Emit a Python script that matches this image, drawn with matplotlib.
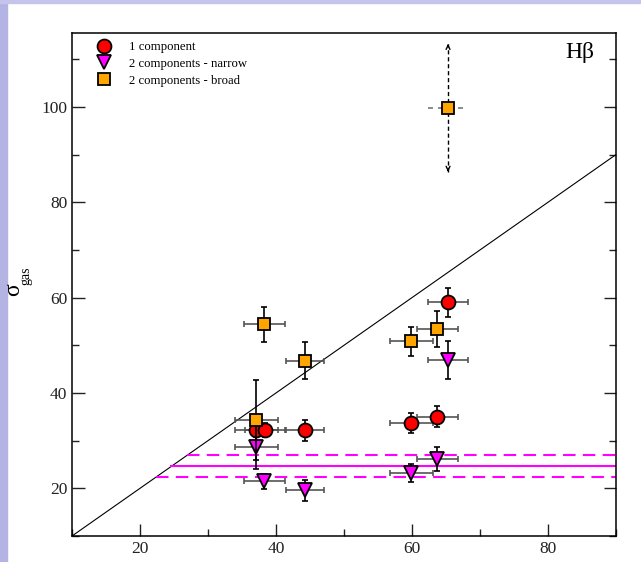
import matplotlib
matplotlib.use('Agg')
import matplotlib.pyplot as plt
from matplotlib.lines import Line2D
from matplotlib.patches import Rectangle
from matplotlib.ticker import MultipleLocator

plt.rcParams['font.family'] = ['Liberation Serif', 'DejaVu Serif']

# 1 component
one_x = [65.3, 59.9, 63.7, 44.2, 37.1, 38.4]
one_y = [59.0, 33.6, 35.0, 32.2, 32.2, 32.2]
one_xerr = [2.9, 3.2, 3.0, 2.9, 3.2, 3.0]
one_yerr = [3.0, 2.1, 2.2, 2.2, 1.5, 1.5]

# 2 components - narrow
narrow_x = [65.3, 63.7, 59.9, 44.2, 38.3, 37.1]
narrow_y = [46.9, 26.2, 23.2, 19.6, 21.5, 28.6]
narrow_xerr = [2.9, 3.0, 3.2, 2.8, 3.0, 3.2]
narrow_yerr = [3.9, 2.5, 1.9, 2.2, 1.6, 4.6]

# 2 components - broad
broad_x = [37.1, 38.3, 44.2, 59.9, 63.7]
broad_y = [34.3, 54.4, 46.8, 50.8, 53.4]
broad_xerr = [3.2, 3.0, 2.8, 3.2, 3.0]
broad_yerr = [8.4, 3.7, 3.9, 3.1, 3.7]

# broad point with uncertain value (dashed bars with arrows)
lim_x, lim_y, lim_xerr, lim_yerr = 65.3, 99.8, 2.9, 13.4

# mean narrow sigma and its spread
sig_mean, sig_lo, sig_hi = 24.6, 22.4, 26.9

fig = plt.figure(figsize=(6.41, 5.62), dpi=100)

# slide background strips
fig.patches.append(Rectangle((0, 0), 7 / 641, 1, transform=fig.transFigure,
                             color='#b4b4e4', zorder=0))
fig.patches.append(Rectangle((0, 1 - 3 / 562), 1, 3 / 562, transform=fig.transFigure,
                             color='#c4c4ec', zorder=0))

ax = fig.add_axes([72 / 641, 1 - 536 / 562, 544 / 641, 503 / 562])
ax.set_xlim(10, 90)
ax.set_ylim(10, 115.5)

# 1:1 line
ax.plot([10, 90], [10, 90], color='black', lw=0.8, zorder=2)

# magenta mean lines, starting at the 1:1 line
ax.plot([sig_mean, 90], [sig_mean, sig_mean], color='#ff00ff', lw=1.5, zorder=2)
for v in (sig_lo, sig_hi):
    ax.plot([v, 90], [v, v], color='#ff00ff', lw=1.5, ls=(0, (6, 3.5)), zorder=2)

def errs(x, y, xe, ye, marker, color, ms, z):
    ax.errorbar(x, y, xerr=xe, fmt='none', ecolor='#555555', elinewidth=1.2,
                capsize=2.5, capthick=1.2, zorder=z)
    ax.errorbar(x, y, yerr=ye, fmt='none', ecolor='black', elinewidth=1.2,
                capsize=2.5, capthick=1.2, zorder=z)
    ax.plot(x, y, ls='none', marker=marker, ms=ms, mfc=color, mec='black',
            mew=1.3, zorder=z + 0.5)

errs(one_x, one_y, one_xerr, one_yerr, 'o', '#ff0000', 10, 3)
errs(narrow_x, narrow_y, narrow_xerr, narrow_yerr, 'v', '#ff00ff', 10, 4)
errs(broad_x, broad_y, broad_xerr, broad_yerr, 's', '#ffa500', 8, 5)

# uncertain point
ax.plot([lim_x - lim_xerr, lim_x + lim_xerr], [lim_y, lim_y], color='#777777',
        lw=1.2, ls=(0, (3, 3)), zorder=5)
ax.plot([lim_x, lim_x], [lim_y - lim_yerr, lim_y + lim_yerr], color='black',
        lw=1.0, ls=(0, (3, 2)), zorder=5)
for s in (1, -1):
    ax.annotate('', xy=(lim_x, lim_y + s * lim_yerr), xytext=(lim_x, lim_y + s * (lim_yerr - 0.5)),
                arrowprops=dict(arrowstyle='->', color='black', lw=1.0, mutation_scale=7),
                zorder=6)
ax.plot([lim_x], [lim_y], ls='none', marker='s', ms=8, mfc='#ffa500', mec='black',
        mew=1.3, zorder=7)

ax.text(0.961, 0.961, 'H\u03b2', transform=ax.transAxes, ha='right', va='center', fontsize=17)

# ticks
ax.xaxis.set_major_locator(MultipleLocator(20))
ax.xaxis.set_minor_locator(MultipleLocator(10))
ax.yaxis.set_major_locator(MultipleLocator(20))
ax.yaxis.set_minor_locator(MultipleLocator(10))
ax.tick_params(which='both', direction='in', top=False, right=True, labelsize=12.5,
               width=1.0, colors='#222222', labelcolor='#222222')
ax.tick_params(which='major', length=9)
ax.tick_params(which='minor', length=5)
ax.set_xticks([20, 40, 60, 80])
ax.set_yticks([20, 40, 60, 80, 100])
for sp in ax.spines.values():
    sp.set_linewidth(1.1)

# axis labels: upright sigma with a small subscript
fig.text(14 / 641, 1 - 290 / 562, '\u03c3', rotation=90, fontsize=17,
         ha='center', va='center')
fig.text(26 / 641, 1 - 276 / 562, 'gas', rotation=90, fontsize=10,
         ha='center', va='center')
fig.text(342 / 641, -0.04, '\u03c3', fontsize=17, ha='center', va='bottom')

handles = [
    Line2D([], [], ls='none', marker='o', ms=10, mfc='#ff0000', mec='black', mew=1.3),
    Line2D([], [], ls='none', marker='v', ms=10, mfc='#ff00ff', mec='black', mew=1.3),
    Line2D([], [], ls='none', marker='s', ms=8, mfc='#ffa500', mec='black', mew=1.3),
]
labels = ['1 component', '2 components - narrow', '2 components - broad']
ax.legend(handles, labels, loc='upper left', bbox_to_anchor=(0.045, 0.984), frameon=False,
          fontsize=9.2, handlelength=1.2, handletextpad=1.37, labelspacing=0.38,
          borderaxespad=0.0, borderpad=0.0)

fig.savefig('out.png', dpi=100)
